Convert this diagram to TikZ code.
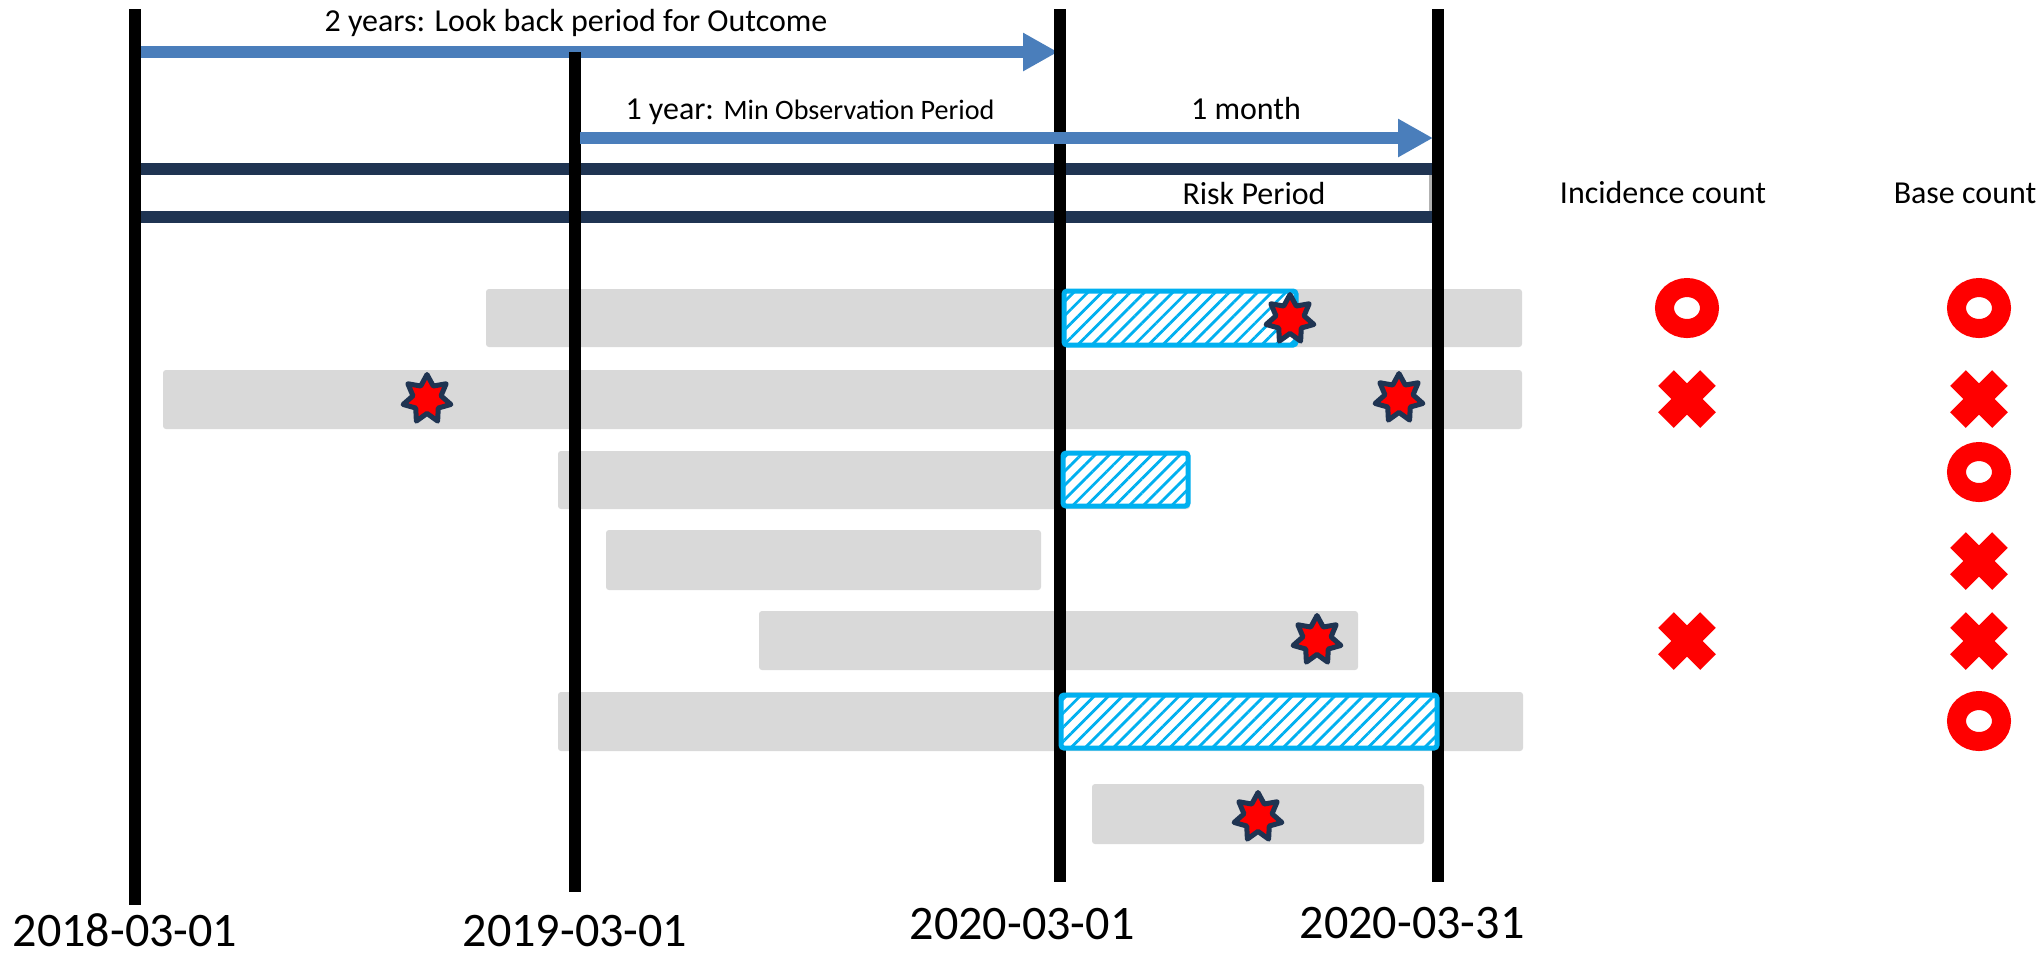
\documentclass[tikz,border=0pt]{standalone}
\usepackage{fontspec}
\setmainfont{Carlito}
\usetikzlibrary{arrows.meta,positioning,shapes.geometric,shapes.misc,patterns.meta}

\definecolor{arrowblue}{RGB}{74,126,187}
\definecolor{riskblue}{RGB}{31,52,82}
\definecolor{bargrey}{RGB}{217,217,217}
\definecolor{hatchcyan}{RGB}{0,176,240}

\begin{document}
\begin{tikzpicture}[
  x=0.1mm, y=-0.1mm,
  dateline/.style={line width=1.2mm, black},
  period/.style={line width=1.2mm, arrowblue, -{Triangle[length=3.5mm,width=3.6mm]}},
  risk/.style={line width=1.2mm, riskblue},
  obs/.style={fill=bargrey, rounded corners=0.3mm},
  atrisk/.style={draw=hatchcyan, line width=0.5mm, rounded corners=0.3mm, preaction={fill=white},
    pattern={Lines[angle=45,distance=1mm,line width=0.28mm]}, pattern color=hatchcyan},
  event/.style={star, star points=7, star point ratio=1.7, minimum size=4.9mm, inner sep=0pt,
    draw=riskblue, line width=0.5mm, line join=round, fill=red},
  omark/.style={ellipse, draw=red, line width=1.9mm, minimum width=4.5mm, minimum height=4.1mm, inner sep=0pt},
  xmark/.style={cross out, draw=red, line width=2.2mm, minimum size=4.2mm, inner sep=0pt, outer sep=0pt},
  note/.style={font=\fontsize{9.1}{11}\selectfont, anchor=base, inner sep=0pt},
  date/.style={font=\fontsize{13.7}{16}\selectfont, anchor=base, inner sep=0pt}
]
  \path[use as bounding box, fill=white] (0,0) rectangle (2044,956);

  % observation periods
  \fill[obs] (486,289) rectangle (1522,347);
  \fill[obs] (163,370) rectangle (1522,429);
  \fill[obs] (558,451) rectangle (1190,509);
  \fill[obs] (606,530) rectangle (1041,590);
  \fill[obs] (759,611) rectangle (1358,670);
  \fill[obs] (558,692) rectangle (1523,751);
  \fill[obs] (1092,784) rectangle (1424,844);

  \draw[period] (141,52) -- (1058,52);
  \draw[gray!60, line width=0.3mm] (135,169) rectangle (1430,217);
  \draw[risk] (135,169) -- (1438,169);
  \draw[risk] (135,217) -- (1438,217);

  \foreach \x/\top/\bot/\name in {135/9/905/a, 575/52/892/b, 1060/9/882/c, 1438/9/882/d}
    \draw[dateline] (\x,\top) coordinate (\name top) -- (\x,\bot) coordinate (\name bot);

  \draw[period] (580,138) -- (1433,138);

  % time at risk
  \draw[atrisk] (1064,291) rectangle (1296,345);
  \draw[atrisk] (1063,453) rectangle (1188,506);
  \draw[atrisk] (1061,695) rectangle (1437,748);

  % outcomes
  \node[event] (ev1) at (1290,319) {};
  \node[event] (ev2) at (427,399) {};
  \node[event] (ev3) at (1399,398) {};
  \node[event] (ev4) at (1317,640) {};
  \node[event] (ev5) at (1258,817) {};

  \node[note] (lookback) at (576,31) {2 years: Look back period for Outcome};
  \node[note] (minobs) at (810,119) {1 year: {\fontsize{8}{10}\selectfont Min Observation Period}};
  \node[note] (month) at (1246,119) {1 month};
  \node[note] (riskp) at (1254,204) {Risk Period};
  \node[note] (inc) at (1663,203) {Incidence count};
  \node[note] (base) at (1965,203) {Base count};

  \node[omark] (inc1) at (1687,308) {};
  \node[xmark] (inc2) at (1687,399) {};
  \node[xmark] (inc5) at (1687,641) {};
  \node[omark] (base1) at (1979,308) {};
  \node[xmark] (base2) at (1979,399) {};
  \node[omark] (base3) at (1979,472) {};
  \node[xmark] (base4) at (1979,561) {};
  \node[xmark] (base5) at (1979,641) {};
  \node[omark] (base6) at (1979,721) {};

  \node[date] (d1) at (125,946) {2018-03-01};
  \node[date] (d2) at (575,946) {2019-03-01};
  \node[date] (d3) at (1022,939) {2020-03-01};
  \node[date] (d4) at (1412,938) {2020-03-31};
\end{tikzpicture}
\end{document}
